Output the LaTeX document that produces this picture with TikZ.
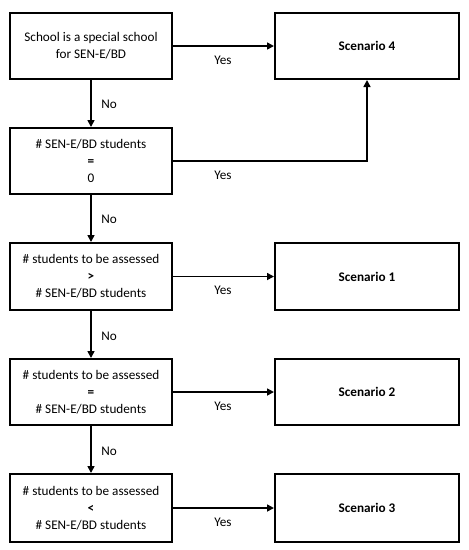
\documentclass[tikz,border=0pt]{standalone}
\usepackage{fontspec}
\setmainfont{Carlito}
\usetikzlibrary{arrows.meta}
\begin{document}
\begin{tikzpicture}[x=1pt,y=-1pt,
  cond/.style={draw,line width=2pt,minimum width=162pt,minimum height=66pt,align=center,inner sep=0pt,font=\fontsize{13.2}{17}\selectfont},
  scen/.style={draw,line width=2pt,minimum width=184pt,minimum height=66pt,align=center,inner sep=0pt,font=\fontsize{13.2}{17}\selectfont\bfseries},
  arr/.style={line width=1.6pt,-{Triangle[length=7pt,width=7pt]}},
  lbl/.style={font=\fontsize{13.2}{14}\selectfont,inner sep=0pt}]
\useasboundingbox (0,0) rectangle (469,550);
\node[cond] (c1) at (91,46) {School is a special school\\for SEN-E/BD};
\node[cond] (c2) at (91,161) {\# SEN-E/BD students\\\textbf{=}\\0};
\node[cond,minimum height=67pt] (c3) at (91,276.5) {\# students to be assessed\\\textbf{>}\\\# SEN-E/BD students};
\node[cond] (c4) at (91,392) {\# students to be assessed\\\textbf{=}\\\# SEN-E/BD students};
\node[cond,minimum height=68pt] (c5) at (91,508) {\# students to be assessed\\\textbf{<}\\\# SEN-E/BD students};
\node[scen] (s4) at (367,46) {Scenario 4};
\node[scen,minimum height=67pt] (s1) at (367,276.5) {Scenario 1};
\node[scen] (s2) at (367,392) {Scenario 2};
\node[scen,minimum height=68pt] (s3) at (367,508) {Scenario 3};
\draw[arr] (c1) -- (s4);
\draw[arr] (c2.east) -| (s4.south);
\draw[arr] (c3) -- (s1);
\draw[arr] (c4) -- (s2);
\draw[arr] (c5) -- (s3);
\draw[arr] (c1) -- (c2);
\draw[arr] (c2) -- (c3);
\draw[arr] (c3) -- (c4);
\draw[arr] (c4) -- (c5);
\node[lbl] (y1) at (223,60) {Yes};
\node[lbl] (y2) at (223,175) {Yes};
\node[lbl] (y3) at (223,290) {Yes};
\node[lbl] (y4) at (223,406) {Yes};
\node[lbl] (y5) at (223,522) {Yes};
\node[lbl] (n1) at (109,104) {No};
\node[lbl] (n2) at (109,219) {No};
\node[lbl] (n3) at (109,336) {No};
\node[lbl] (n4) at (109,451) {No};
\end{tikzpicture}
\end{document}
